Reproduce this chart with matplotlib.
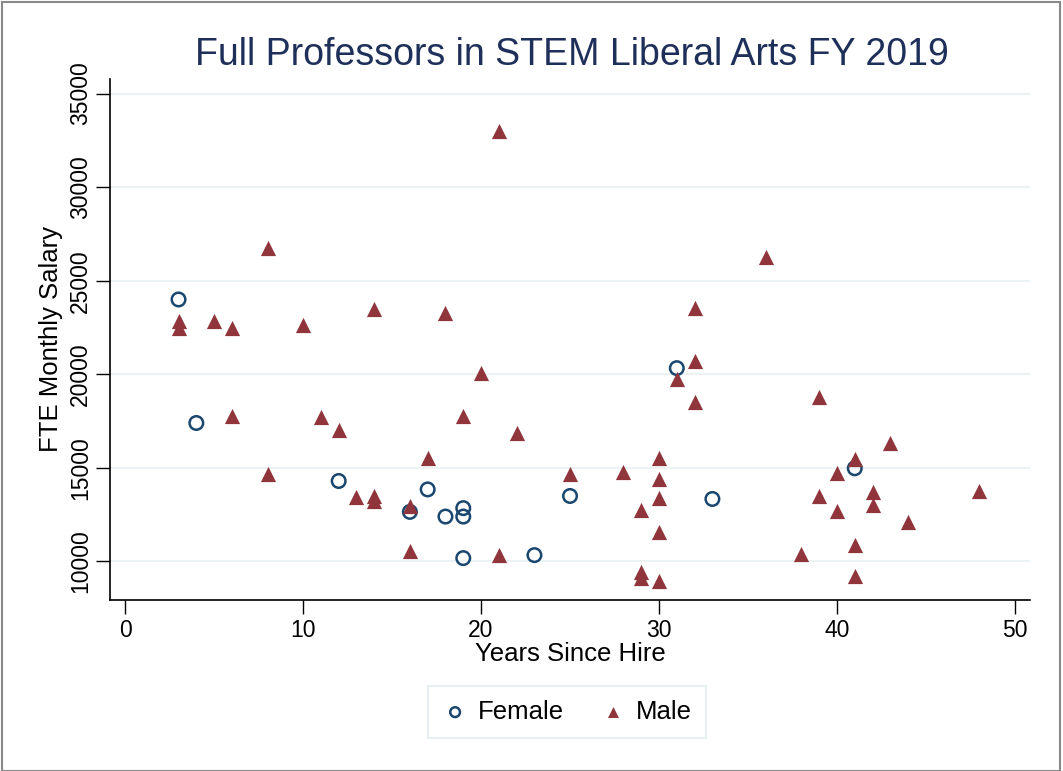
import matplotlib
matplotlib.use('Agg')
import matplotlib.pyplot as plt
from matplotlib.patches import Rectangle

# --- data ---
female_years = [3, 4, 12, 16, 17, 18, 19, 19, 19, 23, 25, 31, 33, 41]
female_salary = [24000, 17400, 14300, 12650, 13850, 12400, 12850, 12400, 10180,
                 10340, 13500, 20330, 13340, 14980]

male_years = [3, 3, 5, 6, 6, 8, 8, 10, 11, 12, 13, 14, 14, 14, 16, 16, 17, 18,
              19, 20, 21, 21, 22, 25, 28, 29, 29, 29, 30, 30, 30, 30, 30, 31,
              32, 32, 32, 36, 38, 39, 39, 40, 40, 41, 41, 41, 42, 42, 43, 44, 48]
male_salary = [22850, 22500, 22850, 22500, 17750, 26750, 14700, 22650, 17700,
               17050, 13450, 23500, 13500, 13250, 12950, 10550, 15550, 23300,
               17750, 20050, 33000, 10350, 16850, 14700, 14800, 12750, 9450,
               9100, 15550, 14400, 13400, 11550, 8950, 19750, 23550, 20700,
               18500, 26250, 10400, 18800, 13500, 14750, 12700, 15500, 10900,
               9200, 13700, 13000, 16350, 12100, 13750]

x_ticks = [0, 10, 20, 30, 40, 50]
y_ticks = [10000, 15000, 20000, 25000, 30000, 35000]

title = "Full Professors in STEM Liberal Arts FY 2019"

# --- style ---
plt.rcParams['font.family'] = ['Liberation Sans', 'DejaVu Sans']
navy = '#1a476f'
maroon = '#90353b'

fig = plt.figure(figsize=(10.63, 7.71), dpi=100)
ax = fig.add_axes([0.1035, 0.222, 0.8655, 0.676])

ax.scatter(female_years, female_salary, s=95, facecolors='none',
           edgecolors=navy, linewidths=1.8, label='Female', zorder=3)
ax.scatter(male_years, male_salary, s=120, marker='^', color=maroon,
           linewidths=0, label='Male', zorder=3)

ax.set_xlim(-0.85, 50.85)
ax.set_ylim(7950, 35800)
ax.set_xticks(x_ticks)
ax.set_yticks(y_ticks)
ax.tick_params(axis='x', labelsize=16.5, length=10, width=1, pad=4)
ax.tick_params(axis='y', labelsize=16.5, length=10, width=1, pad=3)
for lab in ax.get_yticklabels():
    lab.set_rotation(90)
    lab.set_va('center')

ax.grid(axis='y', color='#eaf2f3', linewidth=1.5)
ax.set_axisbelow(True)
for side in ['top', 'right']:
    ax.spines[side].set_visible(False)
for side in ['left', 'bottom']:
    ax.spines[side].set_linewidth(1.2)

ax.set_xlabel('Years Since Hire', fontsize=18.5, labelpad=0)
ax.set_ylabel('FTE Monthly Salary', fontsize=18.5, labelpad=4)

fig.text(0.5376, 1 - 65 / 771, title, ha='center', va='baseline',
         fontsize=27, color='#1e2f5a')

leg = ax.legend(loc='center', bbox_to_anchor=(0.497, -0.215), ncol=2,
                fontsize=18.5, frameon=True, fancybox=False, edgecolor='#e1ebf0',
                handlelength=1.0, handletextpad=0.4, columnspacing=1.4,
                borderpad=0.55, markerscale=0.72)
leg.get_frame().set_linewidth(1.5)

# outer frame around the graph
fig.patches.append(Rectangle((0.002, 0.0), 0.995, 0.998, transform=fig.transFigure,
                             fill=False, edgecolor='#8a8a8a', linewidth=1.5))

fig.savefig('out.png', dpi=100)
